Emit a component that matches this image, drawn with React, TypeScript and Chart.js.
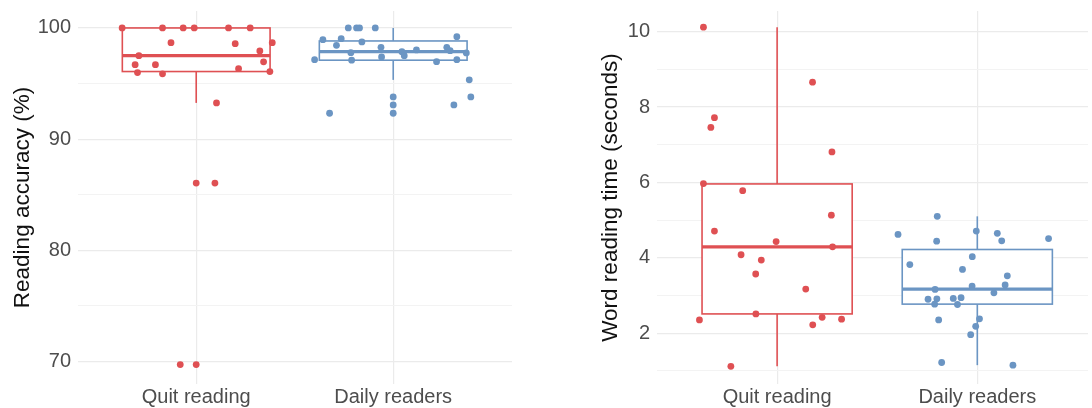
import React, { useEffect, useRef } from "react";
import { Chart, registerables } from "chart.js";

Chart.register(...registerables);

const categories = ["Quit reading", "Daily readers"];

// Left panel: reading accuracy (%)
const accTicks = [70, 75, 80, 85, 90, 95, 100];
const accQuitX = [0.624, 0.829, 0.934, 0.99, 1.164, 1.274, 0.872, 1.198, 1.386, 1.323, 0.709, 1.342, 0.69, 0.793, 1.215, 0.702, 0.829, 1.374, 1.103, 1.0, 1.095, 0.919, 1.0];
const accQuitY = [100, 100, 100, 100, 100, 100, 98.68, 98.59, 98.68, 97.93, 97.51, 96.95, 96.7, 96.7, 96.34, 95.99, 95.87, 96.08, 93.26, 86.05, 86.05, 69.72, 69.72];
const accDailyX = [1.772, 1.814, 1.829, 1.909, 1.643, 1.736, 1.712, 1.841, 2.323, 1.938, 2.272, 2.289, 1.785, 2.044, 2.056, 2.118, 2.371, 1.601, 1.789, 1.941, 2.22, 2.323, 2.386, 2.394, 2.0, 2.0, 2.0, 2.308, 1.677];
const accDailyY = [100, 100, 100, 100, 98.95, 99.04, 98.44, 98.74, 99.22, 98.26, 98.26, 97.96, 97.78, 97.87, 97.51, 98.02, 97.75, 97.15, 97.1, 97.39, 96.97, 97.15, 95.33, 93.8, 93.8, 93.08, 92.33, 93.08, 92.33];
const accLow = [93.26, 95.33];
const accQ1 = [96.08, 97.1];
const accMed = [97.51, 97.87];
const accQ3 = [100, 98.83];
const accHigh = [100, 100];

// Right panel: word reading time (seconds)
const timeTicks = [1, 2, 3, 4, 5, 6, 7, 8, 9, 10];
const timeQuitX = [0.632, 1.177, 0.687, 0.669, 1.274, 0.632, 0.828, 1.271, 0.687, 0.995, 1.277, 0.82, 0.921, 0.893, 1.143, 0.894, 0.612, 1.225, 1.178, 1.322, 0.769];
const timeQuitY = [10.12, 8.66, 7.72, 7.46, 6.81, 5.97, 5.78, 5.13, 4.71, 4.43, 4.29, 4.08, 3.94, 3.57, 3.17, 2.51, 2.35, 2.42, 2.22, 2.37, 1.12];
const timeDailyX = [1.8, 1.604, 1.995, 2.1, 1.797, 2.122, 2.356, 1.975, 1.663, 1.926, 2.15, 2.139, 1.974, 1.789, 2.083, 1.754, 1.798, 1.88, 1.919, 1.787, 1.901, 1.807, 2.011, 1.992, 1.967, 1.822, 2.178];
const timeDailyY = [5.1, 4.62, 4.71, 4.65, 4.44, 4.45, 4.51, 4.03, 3.82, 3.69, 3.52, 3.28, 3.25, 3.16, 3.07, 2.9, 2.91, 2.92, 2.94, 2.77, 2.76, 2.35, 2.38, 2.18, 1.96, 1.22, 1.15];
const timeLow = [1.12, 1.15];
const timeQ1 = [2.51, 2.77];
const timeMed = [4.29, 3.17];
const timeQ3 = [5.96, 4.22];
const timeHigh = [10.12, 5.1];

const RED = "#DF5053";
const BLUE = "#6B95C3";
const groupColors = [RED, BLUE];
const FONT = "'Liberation Sans', Arial, Helvetica, sans-serif";

type PanelSpec = {
  title: string;
  yMin: number;
  yMax: number;
  xMax: number;
  yTicks: number[];
  major: (v: number) => boolean;
  quitX: number[];
  quitY: number[];
  dailyX: number[];
  dailyY: number[];
  low: number[];
  q1: number[];
  med: number[];
  q3: number[];
  high: number[];
  axisWidth: number;
  rightPad: number;
  titlePad: number;
};

function toPoints(xs: number[], ys: number[]) {
  return xs.map((x, i) => ({ x, y: ys[i] }));
}

function makeConfig(p: PanelSpec): any {
  const boxPlugin = {
    id: "boxes",
    beforeDatasetsDraw(chart: any) {
      const ctx = chart.ctx;
      const xs = chart.scales.x;
      const ys = chart.scales.y;
      categories.forEach((_, i) => {
        const c = i + 1;
        const xc = xs.getPixelForValue(c);
        const x0 = xs.getPixelForValue(c - 0.375);
        const x1 = xs.getPixelForValue(c + 0.375);
        const yLow = ys.getPixelForValue(p.low[i]);
        const yHigh = ys.getPixelForValue(p.high[i]);
        const yQ1 = ys.getPixelForValue(p.q1[i]);
        const yQ3 = ys.getPixelForValue(p.q3[i]);
        const yMed = ys.getPixelForValue(p.med[i]);
        ctx.save();
        ctx.strokeStyle = groupColors[i];
        ctx.lineWidth = 1.6;
        ctx.beginPath();
        ctx.moveTo(xc, yLow);
        ctx.lineTo(xc, yHigh);
        ctx.stroke();
        ctx.fillStyle = "#FFFFFF";
        ctx.fillRect(x0, yQ3, x1 - x0, yQ1 - yQ3);
        ctx.strokeRect(x0, yQ3, x1 - x0, yQ1 - yQ3);
        ctx.lineWidth = 3.2;
        ctx.beginPath();
        ctx.moveTo(x0, yMed);
        ctx.lineTo(x1, yMed);
        ctx.stroke();
        ctx.restore();
      });
    },
  };

  return {
    type: "scatter",
    data: {
      datasets: [
        {
          label: categories[0],
          data: toPoints(p.quitX, p.quitY),
          backgroundColor: RED,
          borderWidth: 0,
          pointRadius: 3.4,
        },
        {
          label: categories[1],
          data: toPoints(p.dailyX, p.dailyY),
          backgroundColor: BLUE,
          borderWidth: 0,
          pointRadius: 3.4,
        },
      ],
    },
    options: {
      animation: false,
      responsive: false,
      maintainAspectRatio: false,
      layout: { padding: { top: 11, right: p.rightPad, left: 0, bottom: 0 } },
      plugins: { legend: { display: false }, tooltip: { enabled: false } },
      scales: {
        x: {
          type: "linear",
          min: 0.4,
          max: p.xMax,
          afterBuildTicks(scale: any) {
            scale.ticks = [{ value: 1 }, { value: 2 }];
          },
          afterFit(scale: any) {
            scale.height = 24;
            scale.paddingLeft = 0;
            scale.paddingRight = 0;
          },
          ticks: {
            padding: 1,
            color: "#4D4D4D",
            font: { family: FONT, size: 20 },
            callback: (v: number) => categories[Math.round(v) - 1] ?? "",
            maxRotation: 0,
            autoSkip: false,
          },
          grid: { color: "#EBEBEB", lineWidth: 1.2, drawTicks: false },
          border: { display: false },
        },
        y: {
          type: "linear",
          min: p.yMin,
          max: p.yMax,
          afterBuildTicks(scale: any) {
            scale.ticks = p.yTicks.map((v) => ({ value: v }));
          },
          afterFit(scale: any) {
            scale.width = p.axisWidth;
            scale.paddingTop = 0;
            scale.paddingBottom = 0;
          },
          ticks: {
            padding: 7,
            color: "#4D4D4D",
            font: { family: FONT, size: 20 },
            autoSkip: false,
            callback: (v: number) => (p.major(v) ? String(v) : ""),
          },
          grid: {
            drawTicks: false,
            color: (ctx: any) => (ctx.tick && p.major(ctx.tick.value) ? "#EBEBEB" : "#F3F3F3"),
            lineWidth: (ctx: any) => (ctx.tick && p.major(ctx.tick.value) ? 1.2 : 1),
          },
          border: { display: false },
          title: {
            display: true,
            text: p.title,
            color: "#111111",
            font: { family: FONT, size: 22.5 },
            padding: { top: p.titlePad, bottom: 0 },
          },
        },
      },
    },
    plugins: [boxPlugin],
  };
}

const leftSpec: PanelSpec = {
  title: "Reading accuracy (%)",
  yMin: 67.975,
  yMax: 101.525,
  xMax: 2.603,
  yTicks: accTicks,
  major: (v) => v % 10 === 0,
  quitX: accQuitX,
  quitY: accQuitY,
  dailyX: accDailyX,
  dailyY: accDailyY,
  low: accLow,
  q1: accQ1,
  med: accMed,
  q3: accQ3,
  high: accHigh,
  axisWidth: 78,
  rightPad: 34,
  titlePad: 9,
};

const rightSpec: PanelSpec = {
  title: "Word reading time (seconds)",
  yMin: 0.65,
  yMax: 10.55,
  xMax: 2.553,
  yTicks: timeTicks,
  major: (v) => v % 2 === 0,
  quitX: timeQuitX,
  quitY: timeQuitY,
  dailyX: timeDailyX,
  dailyY: timeDailyY,
  low: timeLow,
  q1: timeQ1,
  med: timeMed,
  q3: timeQ3,
  high: timeHigh,
  axisWidth: 111,
  rightPad: 0,
  titlePad: 51,
};

function Panel({ spec, left }: { spec: PanelSpec; left: number }) {
  const ref = useRef<HTMLCanvasElement | null>(null);
  useEffect(() => {
    if (!ref.current) return;
    const chart = new Chart(ref.current, makeConfig(spec));
    return () => chart.destroy();
  }, [spec]);
  return (
    <div style={{ position: "absolute", left, top: 0, width: 546, height: 408 }}>
      <canvas ref={ref} width={546} height={408} style={{ width: 546, height: 408, display: "block" }} />
    </div>
  );
}

export default function App() {
  return (
    <div style={{ position: "fixed", left: 0, top: 0, width: 1092, height: 408, background: "#FFFFFF", overflow: "hidden" }}>
      <Panel spec={leftSpec} left={0} />
      <Panel spec={rightSpec} left={546} />
    </div>
  );
}
